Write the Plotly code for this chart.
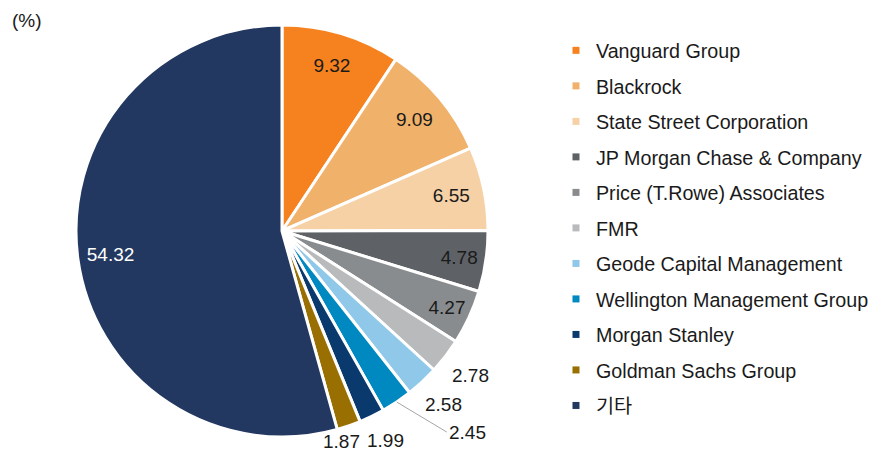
import math
import plotly.graph_objects as go

holders = ['Vanguard Group', 'Blackrock', 'State Street Corporation',
           'JP Morgan Chase & Company', 'Price (T.Rowe) Associates', 'FMR',
           'Geode Capital Management', 'Wellington Management Group',
           'Morgan Stanley', 'Goldman Sachs Group', '기타']
shares = [9.32, 9.09, 6.55, 4.78, 4.27, 2.78, 2.58, 2.45, 1.99, 1.87, 54.32]
colors = ['#F5821F', '#F0B26B', '#F6D1A6', '#5E6266', '#898C8F', '#B9BABC',
          '#8FC8E8', '#0088C0', '#0A3A6D', '#9A6F02', '#223860']
# big slices carry the value inside, small ones outside
inside = [True] * 5 + [False] * 5 + [True]
inside_colors = ['#1A1A1A'] * 10 + ['#FFFFFF']

FONT = 'Liberation Sans, Arial, Noto Sans CJK KR, sans-serif'
W, H = 883, 452
PIE_DOMAIN = dict(x=[0.0770, 0.5436], y=[0.0509, 0.9624])
R_PX = 206

fig = go.Figure()

fig.add_trace(go.Pie(labels=holders, values=shares,
                     sort=False, direction='clockwise', rotation=0,
                     marker=dict(colors=colors, line=dict(color='white', width=3)),
                     textinfo='none',
                     showlegend=False, domain=PIE_DOMAIN))

# transparent ring on top so the inside values sit near the rim
fig.add_trace(go.Pie(labels=holders, values=shares, hole=0.68,
                     sort=False, direction='clockwise', rotation=0,
                     marker=dict(colors=['rgba(0,0,0,0)'] * len(shares),
                                 line=dict(width=0)),
                     texttemplate='%{value:.2f}',
                     textposition=['inside' if i else 'none' for i in inside],
                     insidetextorientation='horizontal',
                     insidetextfont=dict(color=inside_colors, size=19, family=FONT),
                     hoverinfo='skip', showlegend=False, domain=PIE_DOMAIN))

# legend entries drawn as empty square-marker traces so the spacing can be set
for name, color in zip(holders, colors):
    fig.add_trace(go.Scatter(x=[None], y=[None], mode='markers', name=name,
                             legendgroup=name,
                             marker=dict(symbol='square', size=7, color=color)))

# outside values: placed along each slice's middle angle
cx = sum(PIE_DOMAIN['x']) / 2
cy = sum(PIE_DOMAIN['y']) / 2
total = sum(shares)
annotations = []
cum = 0
for val, ins in zip(shares, inside):
    theta = 2 * math.pi * (cum + val / 2) / total
    cum += val
    if ins:
        continue
    if val == 2.45:
        # this one is pulled out with a leader line
        annotations.append(dict(
            x=cx + R_PX * math.sin(theta) / W, y=cy + R_PX * math.cos(theta) / H,
            xref='paper', yref='paper', text='%.2f' % val,
            showarrow=True, arrowhead=0, arrowwidth=1, arrowcolor='#A6A6A6',
            ax=50, ay=30, xanchor='left', yanchor='middle',
            font=dict(size=19, family=FONT, color='#1A1A1A')))
        continue
    k = 1.15 if val > 1.9 else 1.10
    dx = -14 if val < 1.9 else 0
    dy = 4 if val < 2 else 0   # keep the bottom pair inside the picture
    annotations.append(dict(
        x=cx + (k * R_PX * math.sin(theta) + dx) / W,
        y=cy + (k * R_PX * math.cos(theta) + dy) / H,
        xref='paper', yref='paper', text='%.2f' % val, showarrow=False,
        xanchor='center', yanchor='middle',
        font=dict(size=19, family=FONT, color='#1A1A1A')))

annotations.append(dict(text='(%)', x=0.0023, y=0.973, xref='paper', yref='paper',
                        xanchor='left', yanchor='middle', showarrow=False,
                        font=dict(size=19)))

fig.update_layout(
    width=W, height=H,
    margin=dict(l=0, r=0, t=0, b=0, autoexpand=False),
    paper_bgcolor='white', plot_bgcolor='white',
    font=dict(family=FONT, size=19.7, color='#1A1A1A'),
    xaxis=dict(visible=False), yaxis=dict(visible=False),
    legend=dict(x=0.6206, y=0.949, xanchor='left', yanchor='top',
                font=dict(size=19.7), tracegroupgap=6.9, traceorder='grouped',
                bgcolor='rgba(0,0,0,0)'),
    annotations=annotations
)

fig.write_html('out.html')
